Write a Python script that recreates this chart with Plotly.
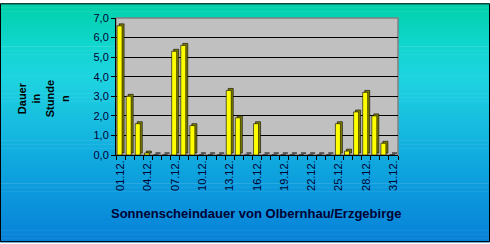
import plotly.graph_objects as go

# ---- data ----
days = [f"{d:02d}.12." for d in range(1, 32)]
hours = [6.6, 3.0, 1.6, 0.1, 0.0, 0.0, 5.3, 5.6, 1.5, 0.0, 0.0, 0.0, 3.3, 1.9, 0.0, 1.6,
         0.0, 0.0, 0.0, 0.0, 0.0, 0.0, 0.0, 0.0, 1.6, 0.2, 2.2, 3.2, 2.0, 0.6, 0.0]
positions = list(range(1, len(days) + 1))
tick_positions = positions[::3]
tick_labels = days[::3]
y_title = "Dauer<br>in<br>Stunde<br>n"
x_title = "Sonnenscheindauer von Olbernhau/Erzgebirge"

# ---- style ----
W, H = 490, 244
L, R, T, B = 116, 92, 15, 89
PW, PH = W - L - R, H - T - B
FONT = "Arial, Liberation Sans, sans-serif"
TXT = "#000033"

grad_stops = [(0, (0, 208, 168)), (40, (16, 214, 204)), (75, (30, 212, 224)),
              (120, (24, 190, 224)), (170, (14, 164, 222)), (244, (8, 128, 216))]

def grad_color(ypx):
    for (y0, c0), (y1, c1) in zip(grad_stops[:-1], grad_stops[1:]):
        if y0 <= ypx <= y1:
            t = (ypx - y0) / (y1 - y0)
            c = [round(a + (b - a) * t) for a, b in zip(c0, c1)]
            return f"rgb({c[0]},{c[1]},{c[2]})"
    return "rgb(8,128,216)"

def px_x(x):
    return (x - L) / PW

def px_y(y):
    return (T + PH - y) / PH

shapes = []
band = 4
for y in range(0, H, band):
    shapes.append(dict(type="rect", xref="paper", yref="paper", layer="below",
                       x0=px_x(0), x1=px_x(W), y0=px_y(y), y1=px_y(y + band + 0.5),
                       fillcolor=grad_color(y + band / 2), line=dict(width=0)))
# plot area
shapes.append(dict(type="rect", xref="paper", yref="paper", layer="below",
                   x0=0, x1=1, y0=0, y1=1, fillcolor="#C0C0C0",
                   line=dict(color="#808080", width=1.5)))
# outer border
shapes.append(dict(type="rect", xref="paper", yref="paper", layer="above",
                   x0=px_x(0.5), x1=px_x(W - 0.5), y0=px_y(0.5), y1=px_y(H - 0.5),
                   line=dict(color="#000000", width=1)))

fig = go.Figure()
fig.add_trace(go.Bar(x=positions, y=hours, base=0.1, width=0.55, offset=-0.16,
                     marker=dict(color="#808000", line=dict(color="#000000", width=0.6)),
                     hoverinfo="skip"))
fig.add_trace(go.Bar(x=positions, y=hours, width=0.55, offset=-0.38,
                     marker=dict(color="#FFFF00", line=dict(color="#000000", width=0.6))))

fig.update_layout(
    width=W, height=H, autosize=False,
    margin=dict(l=L, r=R, t=T, b=B, pad=0),
    paper_bgcolor="rgba(0,0,0,0)", plot_bgcolor="rgba(0,0,0,0)",
    barmode="overlay", showlegend=False, separators=",.",
    font=dict(family=FONT, size=11, color=TXT),
    shapes=shapes,
    xaxis=dict(range=[0.5, len(days) + 0.5], tickmode="array", tickvals=tick_positions,
               ticktext=tick_labels, tickangle=-90, ticks="", showgrid=False,
               zeroline=False, showline=True, linecolor="#000000", linewidth=1,
               tickfont=dict(size=11, color=TXT),
               minor=dict(tickmode="array", tickvals=[p - 0.5 for p in positions] + [len(days) + 0.5],
                          ticks="outside", ticklen=4, tickcolor="#000000", showgrid=False)),
    yaxis=dict(range=[0, 7], dtick=1, tickformat=".1f", ticks="outside", ticklen=4,
               tickcolor="#000000", showgrid=True, gridcolor="#000000", gridwidth=1,
               zeroline=False, showline=True, linecolor="#000000", linewidth=1,
               tickfont=dict(size=11, color=TXT)),
    annotations=[
        dict(text=y_title, xref="paper", yref="paper", x=px_x(43), y=px_y(98),
             textangle=-90, showarrow=False, align="center",
             font=dict(size=11, color="#000000", family=FONT), xanchor="center", yanchor="middle"),
        dict(text=f"<b>{x_title}</b>", xref="paper", yref="paper", x=px_x(256), y=px_y(215),
             showarrow=False, font=dict(size=13, color=TXT, family=FONT),
             xanchor="center", yanchor="middle"),
    ],
)
fig.layout.annotations[0].text = "<b>" + y_title.replace("<br>", "</b><br><b>") + "</b>"

fig.write_html("out.html")
